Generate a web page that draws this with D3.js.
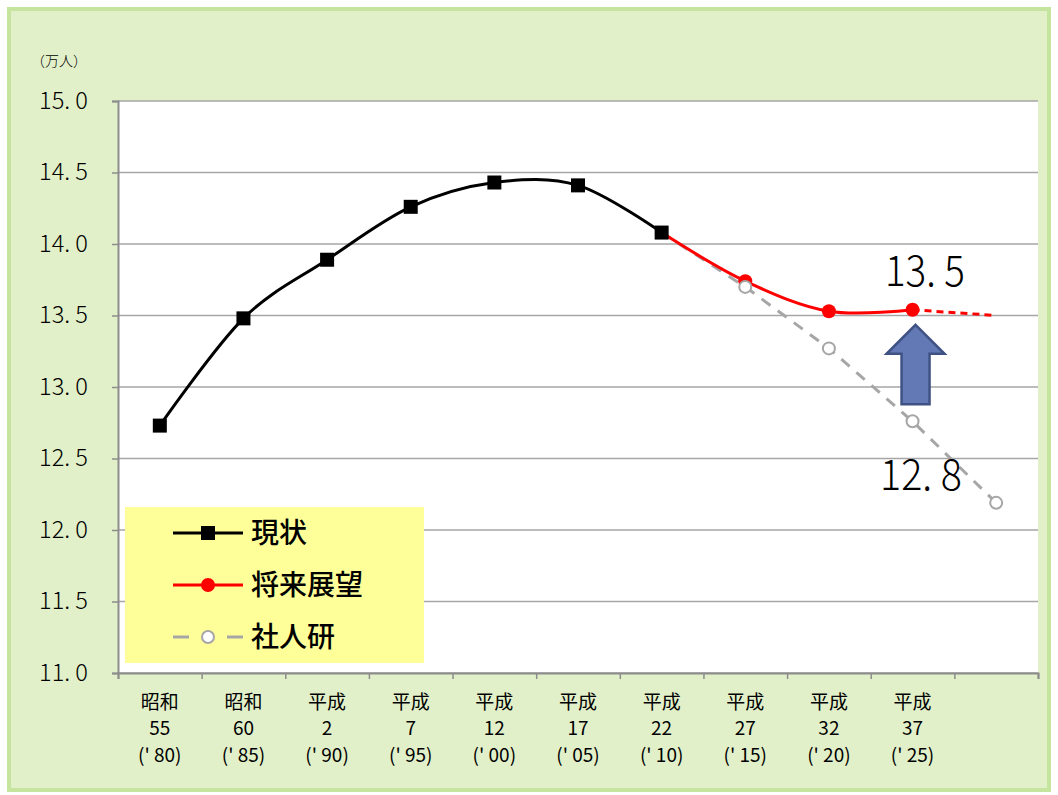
<!DOCTYPE html>
<html><head><meta charset="utf-8">
<script src="https://cdn.jsdelivr.net/npm/d3@7"></script>
<style>
body{margin:0;background:#fff}
svg{display:block}
text{font-family:"Noto Sans CJK JP","Noto Sans",sans-serif;fill:#000}
</style>
</head><body>
<svg id="chart" width="1058" height="795"></svg>
<script>
// Category keys and their three-line tick labels
const categories   = ["S55","S60","H2","H7","H12","H17","H22","H27","H32","H37","H42"];
const eraLabels    = ["昭和","昭和","平成","平成","平成","平成","平成","平成","平成","平成",""];
const eraYears     = ["55","60","2","7","12","17","22","27","32","37",""];
const westernYears = ["(' 80)","(' 85)","(' 90)","(' 95)","(' 00)","(' 05)","(' 10)","(' 15)","(' 20)","(' 25)",""];

// Population (10,000 persons)
const actual           = [12.73, 13.48, 13.89, 14.26, 14.43, 14.41, 14.08, null, null, null, null];
const outlook          = [null, null, null, null, null, null, 14.08, 13.74, 13.53, 13.54, null];
const outlookExtension = [null, null, null, null, null, null, null, null, null, 13.54, 13.50];
const ipss             = [null, null, null, null, null, null, 14.08, 13.70, 13.27, 12.76, 12.19];

const yTicks = [11.0, 11.5, 12.0, 12.5, 13.0, 13.5, 14.0, 14.5, 15.0];

const legendItems = ["現状", "将来展望", "社人研"];

const svg = d3.select("#chart");

// Frame
svg.append("rect").attr("x", 9).attr("y", 9).attr("width", 1040).attr("height", 781)
  .attr("fill", "#e2f0c9").attr("stroke", "#c5e49e").attr("stroke-width", 4);

const plotLeft = 118, plotRight = 1038, plotTop = 101, plotBottom = 673;

const x = d3.scaleBand().domain(categories).range([plotLeft, plotRight]).padding(0);
const cx = c => x(c) + x.bandwidth() / 2;
const xEdge = d3.scaleLinear().domain([0, categories.length]).range([plotLeft, plotRight]);
const y = d3.scaleLinear().domain([11, 15]).range([plotBottom, plotTop]);

// Plot area
svg.append("rect").attr("x", plotLeft).attr("y", plotTop)
  .attr("width", plotRight - plotLeft).attr("height", plotBottom - plotTop)
  .attr("fill", "#fff");

// Gridlines
svg.append("g").selectAll("line").data(yTicks).join("line")
  .attr("x1", plotLeft).attr("x2", plotRight)
  .attr("y1", d => y(d)).attr("y2", d => y(d))
  .attr("stroke", "#a6a6a6").attr("stroke-width", 1.5);

// Unit label
svg.append("text").attr("x", 31).attr("y", 66).attr("font-size", 14).attr("font-weight", 300).text("（万人）");

// Y axis
const yFmt = v => d3.format(".1f")(v).replace(".", ". ");
const yAxis = svg.append("g").attr("transform", `translate(${plotLeft},0)`)
  .call(d3.axisLeft(y).tickValues(yTicks).tickSize(6).tickPadding(24).tickFormat(yFmt));
yAxis.select(".domain").attr("stroke", "#8c8c8c").attr("stroke-width", 2);
yAxis.selectAll(".tick line").attr("stroke", "#8c8c8c").attr("stroke-width", 1.5);
yAxis.selectAll(".tick text")
  .attr("font-family", "'Noto Sans CJK JP', sans-serif").attr("font-size", 23).attr("font-weight", 300)
  .attr("fill", "#000").attr("textLength", 49).attr("lengthAdjust", "spacingAndGlyphs");

// X axis (ticks between categories)
const xAxis = svg.append("g").attr("transform", `translate(0,${plotBottom})`)
  .call(d3.axisBottom(xEdge).tickValues(d3.range(categories.length + 1)).tickSize(6).tickFormat(""));
xAxis.select(".domain").attr("stroke", "#8c8c8c").attr("stroke-width", 2);
xAxis.selectAll(".tick line").attr("stroke", "#8c8c8c").attr("stroke-width", 1.5);

const xl = svg.append("g").selectAll("text").data(categories).join("text")
  .attr("text-anchor", "middle").attr("font-size", 19).attr("font-weight", 400);
xl.append("tspan").attr("x", d => cx(d)).attr("y", 709).text((d, i) => eraLabels[i]);
xl.append("tspan").attr("x", d => cx(d)).attr("y", 735).text((d, i) => eraYears[i]);
xl.append("tspan").attr("x", d => cx(d)).attr("y", 762).text((d, i) => westernYears[i]);

// Series lines
const toPts = arr => categories.map((c, i) => ({ c, v: arr[i] })).filter(d => d.v != null);
const smooth = d3.line().x(d => cx(d.c)).y(d => y(d.v)).curve(d3.curveCardinal.tension(0));
const straight = d3.line().x(d => cx(d.c)).y(d => y(d.v));

svg.append("path").attr("d", straight(toPts(ipss))).attr("fill", "none")
  .attr("stroke", "#a6a6a6").attr("stroke-width", 3).attr("stroke-dasharray", "11,9");
svg.append("path").attr("d", smooth(toPts(outlook))).attr("fill", "none")
  .attr("stroke", "#ff0000").attr("stroke-width", 3);
svg.append("path").attr("d", straight(toPts(outlookExtension))).attr("fill", "none")
  .attr("stroke", "#ff0000").attr("stroke-width", 3).attr("stroke-dasharray", "7,5");
svg.append("path").attr("d", smooth(toPts(actual))).attr("fill", "none")
  .attr("stroke", "#000").attr("stroke-width", 3);

// Markers
svg.append("g").selectAll("circle").data(toPts(outlook).slice(1)).join("circle")
  .attr("cx", d => cx(d.c)).attr("cy", d => y(d.v)).attr("r", 7).attr("fill", "#ff0000");
svg.append("g").selectAll("circle").data(toPts(ipss).slice(1)).join("circle")
  .attr("cx", d => cx(d.c)).attr("cy", d => y(d.v)).attr("r", 6)
  .attr("fill", "#fff").attr("stroke", "#a6a6a6").attr("stroke-width", 2);
svg.append("g").selectAll("rect").data(toPts(actual)).join("rect")
  .attr("x", d => cx(d.c) - 7).attr("y", d => y(d.v) - 7).attr("width", 14).attr("height", 14)
  .attr("fill", "#000");

// Arrow between the two 平成37 values
const ax = cx("H37") + 3;
const tipY = y(outlook[9]) + 15, baseY = y(ipss[9]) - 17;
const headY = tipY + 29;
const arrow = [[ax, tipY], [ax + 29, headY], [ax + 14, headY], [ax + 14, baseY],
               [ax - 14, baseY], [ax - 14, headY], [ax - 29, headY]];
svg.append("path").attr("d", d3.line()(arrow) + "Z")
  .attr("fill", "#6279b6").attr("stroke", "#3f5283").attr("stroke-width", 2.5);

// Value labels for 平成37
svg.append("text").attr("x", 925).attr("y", 286).attr("text-anchor", "middle")
  .attr("font-size", 43).attr("font-weight", 300)
  .attr("textLength", 80).attr("lengthAdjust", "spacingAndGlyphs")
  .text(yFmt(outlook[9]));
svg.append("text").attr("x", 921).attr("y", 490).attr("text-anchor", "middle")
  .attr("font-size", 43).attr("font-weight", 300)
  .attr("textLength", 82).attr("lengthAdjust", "spacingAndGlyphs")
  .text(yFmt(ipss[9]));

// Legend
const lg = svg.append("g");
lg.append("rect").attr("x", 125).attr("y", 507).attr("width", 299).attr("height", 156).attr("fill", "#ffff99");
const rowY = [533, 585, 637];
// 現状
lg.append("line").attr("x1", 173).attr("x2", 243).attr("y1", rowY[0]).attr("y2", rowY[0])
  .attr("stroke", "#000").attr("stroke-width", 3);
lg.append("rect").attr("x", 201).attr("y", rowY[0] - 7).attr("width", 14).attr("height", 14).attr("fill", "#000");
// 将来展望
lg.append("line").attr("x1", 173).attr("x2", 243).attr("y1", rowY[1]).attr("y2", rowY[1])
  .attr("stroke", "#ff0000").attr("stroke-width", 3);
lg.append("circle").attr("cx", 208).attr("cy", rowY[1]).attr("r", 7).attr("fill", "#ff0000");
// 社人研
lg.append("line").attr("x1", 173).attr("x2", 189).attr("y1", rowY[2]).attr("y2", rowY[2])
  .attr("stroke", "#a6a6a6").attr("stroke-width", 3);
lg.append("line").attr("x1", 227).attr("x2", 243).attr("y1", rowY[2]).attr("y2", rowY[2])
  .attr("stroke", "#a6a6a6").attr("stroke-width", 3);
lg.append("circle").attr("cx", 208).attr("cy", rowY[2]).attr("r", 6)
  .attr("fill", "#fff").attr("stroke", "#a6a6a6").attr("stroke-width", 2);
lg.selectAll("text.lab").data(legendItems).join("text").attr("class", "lab")
  .attr("x", 251).attr("y", (d, i) => rowY[i] + 10).attr("font-size", 28).attr("font-weight", 500)
  .text(d => d);
</script>
</body></html>
